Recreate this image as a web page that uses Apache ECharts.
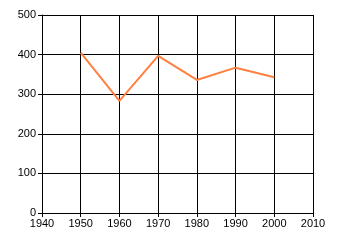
<!DOCTYPE html>
<html>
<head>
<meta charset="utf-8">
<script src="https://cdn.jsdelivr.net/npm/echarts@6/dist/echarts.min.js"></script>
<style>html,body{margin:0;padding:0;background:#fff}#c{width:340px;height:245px}</style>
</head>
<body>
<div id="c"></div>
<script>
var years = [1950, 1960, 1970, 1980, 1990, 2000];
var values = [405, 283, 397, 336, 367, 343];
var xTicks = [1940, 1950, 1960, 1970, 1980, 1990, 2000, 2010];
var yTicks = [0, 100, 200, 300, 400, 500];

var chart = echarts.init(document.getElementById('c'), null, {renderer: 'canvas'});
var font = {fontFamily: 'Liberation Sans', fontSize: 11, color: '#000'};
chart.setOption({
  animation: false,
  grid: {left: 42, top: 15, right: 27, bottom: 32, containLabel: false},
  xAxis: {
    type: 'value', min: xTicks[0], max: xTicks[xTicks.length - 1], interval: 10,
    axisLine: {show: true, onZero: false, lineStyle: {color: '#000', width: 1}},
    axisTick: {show: true, length: 4, lineStyle: {color: '#000'}},
    axisLabel: Object.assign({margin: 5, formatter: function (v) { return String(v); }}, font),
    splitLine: {show: true, lineStyle: {color: '#000', width: 1}}
  },
  yAxis: {
    type: 'value', min: yTicks[0], max: yTicks[yTicks.length - 1], interval: 100,
    axisLine: {show: true, lineStyle: {color: '#000', width: 1}},
    axisTick: {show: true, length: 4, lineStyle: {color: '#000'}},
    axisLabel: Object.assign({margin: 6}, font),
    splitLine: {show: true, lineStyle: {color: '#000', width: 1}}
  },
  series: [{
    type: 'line',
    data: years.map(function (y, i) { return [y, values[i]]; }),
    showSymbol: false,
    lineStyle: {color: '#FF8040', width: 2},
    itemStyle: {color: '#FF8040'}
  }]
});
</script>
</body>
</html>
